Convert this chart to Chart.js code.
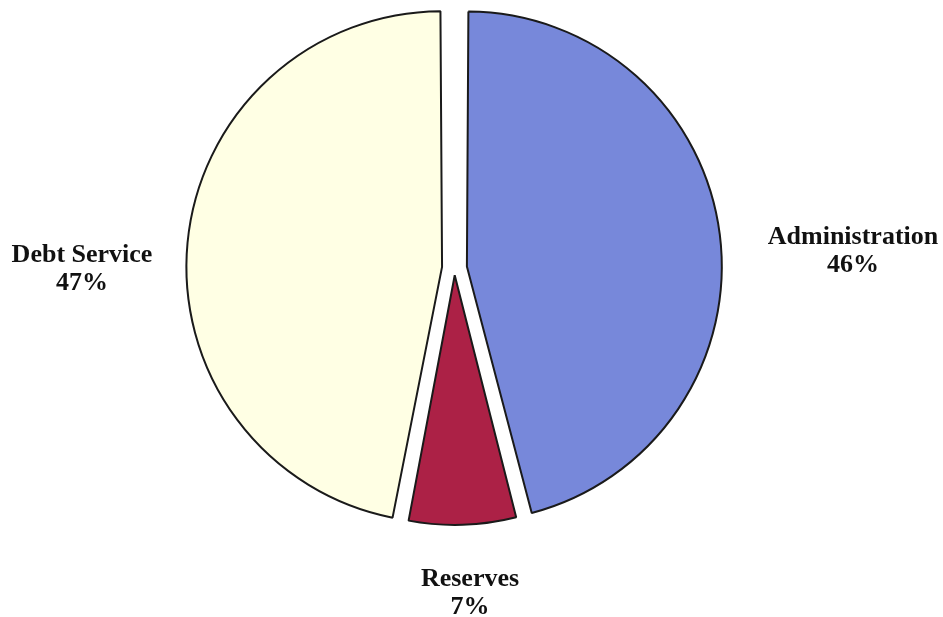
<!DOCTYPE html>
<html>
<head>
<meta charset="utf-8">
<script src="https://cdn.jsdelivr.net/npm/chart.js@4.4.1/dist/chart.umd.min.js"></script>
<style>
	html, body { margin: 0; padding: 0; background: #ffffff; }
	#wrap { width: 943px; height: 617px; }
</style>
</head>
<body>
<div id="wrap"><canvas id="pie"></canvas></div>
<script>
// slices, clockwise from 12 o'clock
const categories = ['Administration', 'Reserves', 'Debt Service']
const shares = [46, 7, 47]
const sliceColors = ['#7788da', '#ac2146', '#ffffe4']

// where each label block sits (centre x, first baseline y)
const labelSpots = {
	'Administration': { x: 853, y: 244 },
	'Reserves': { x: 470, y: 586 },
	'Debt Service': { x: 82, y: 262 },
}

const sliceLabels = {
	id: 'sliceLabels',
	afterDraw(chart) {
		const ctx = chart.ctx
		const ds = chart.data.datasets[0]
		ctx.save()
		ctx.fillStyle = '#111111'
		ctx.textAlign = 'center'
		ctx.textBaseline = 'alphabetic'
		ctx.font = 'bold 26px "Liberation Serif", "Times New Roman", serif'
		chart.data.labels.forEach((name, i) => {
			const spot = labelSpots[name]
			ctx.fillText(name, spot.x, spot.y)
			ctx.fillText(ds.data[i] + '%', spot.x, spot.y + 28)
		})
		ctx.restore()
	},
}

new Chart(document.getElementById('pie'), {
	type: 'pie',
	data: {
		labels: categories,
		datasets: [
			{
				data: shares,
				backgroundColor: sliceColors,
				borderColor: '#1a1a1a',
				borderWidth: 2,
				// chart.js v4 shifts by a quarter of this (and grows the radius a bit)
				offset: [50, 29, 50],
			},
		],
	},
	options: {
		responsive: true,
		maintainAspectRatio: false,
		animation: false,
		radius: 245.5,
		layout: {
			padding: { left: 0, right: 34, top: 0, bottom: 81 },
		},
		plugins: {
			legend: { display: false },
			tooltip: { enabled: false },
		},
	},
	plugins: [sliceLabels],
})
</script>
</body>
</html>
